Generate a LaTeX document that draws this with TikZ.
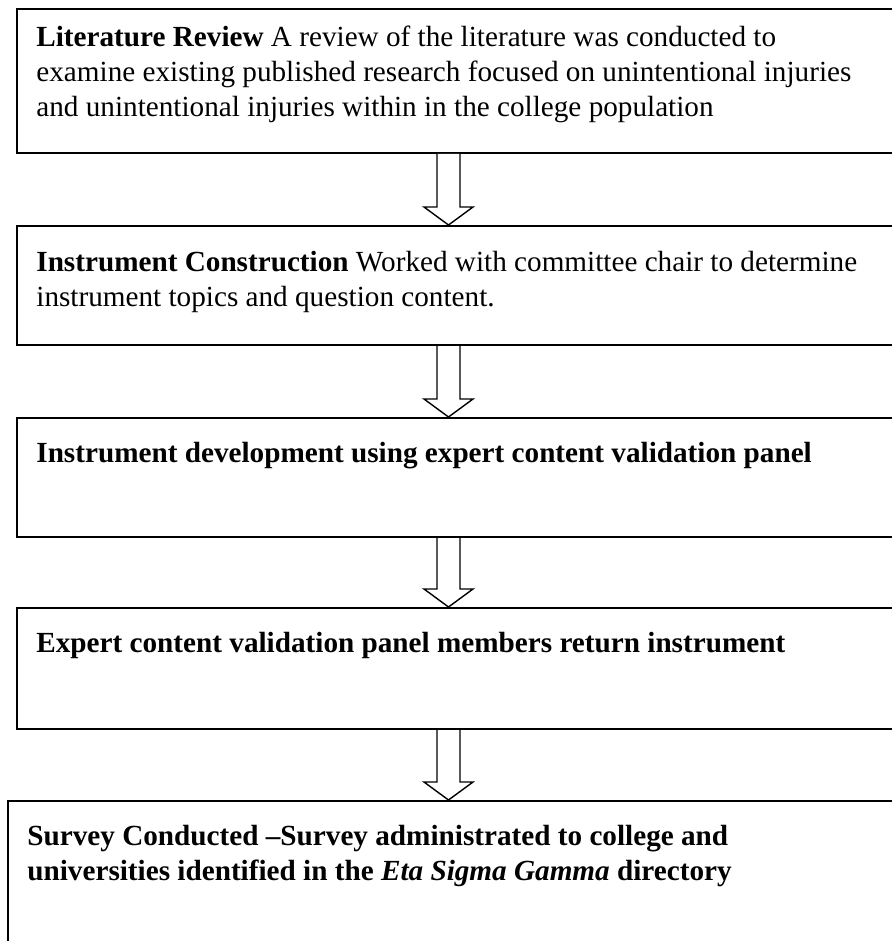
\documentclass[tikz,border=0pt]{standalone}
\usepackage{fontspec}
\setmainfont{Liberation Serif}
\usetikzlibrary{positioning,calc}

\tikzset{
  stepbox/.style={draw, line width=1pt, anchor=north west, inner sep=0pt, minimum width=447pt},
  steptext/.style={anchor=north west, inner sep=0pt, align=left, font=\fontsize{14.6}{17.5}\selectfont},
  flowarrow/.style={draw, line width=0.7pt, fill=white, line join=miter},
}
% hollow block arrow from the bottom of #1 to the top of #2
\newcommand{\hollowarrow}[2]{%
  \draw[flowarrow] ($(axis |- #1.south)+(-11.5,0)$) -- ($(axis |- #2.north)+(-11.5,-18)$)
    -- ++(-13,0) -- (axis |- #2.north) -- ++(24.5,-18) -- ++(-13,0)
    -- ($(axis |- #1.south)+(11.5,0)$);}

\begin{document}
\begin{tikzpicture}[x=0.5pt,y=-0.5pt]
  \useasboundingbox (0,0) rectangle (892,941);
  \coordinate (axis) at (448.5,0);
  % boxes
  \node[stepbox, minimum height=72pt] (lit) at (16,8) {};
  \node[stepbox, minimum height=59.5pt] (con) at (16,225) {};
  \node[stepbox, minimum height=59.5pt] (dev) at (16,417) {};
  \node[stepbox, minimum height=60.5pt] (ret) at (16,607) {};
  \node[stepbox, minimum height=90pt, minimum width=452pt] (sur) at (7,800) {};
  % texts
  \node[steptext] (littxt) at ([shift={(20,18)}]lit.north west)
    {\textbf{Literature Review} A review of the literature was conducted to\\
     examine existing published research focused on unintentional injuries\\
     and unintentional injuries within in the college population};
  \node[steptext] (contxt) at ([shift={(20,26)}]con.north west)
    {\textbf{Instrument Construction} Worked with committee chair to determine\\
     instrument topics and question content.};
  \node[steptext] (devtxt) at ([shift={(20,25)}]dev.north west)
    {\textbf{Instrument development using expert content validation panel}};
  \node[steptext] (rettxt) at ([shift={(20,25)}]ret.north west)
    {\textbf{Expert content validation panel members return instrument}};
  \node[steptext, font=\fontsize{14.6}{17.5}\selectfont\bfseries] (surtxt) at ([shift={(20,25)}]sur.north west)
    {Survey Conducted --Survey administrated to college and\\
     universities identified in the \textit{Eta Sigma Gamma} directory};
  % arrows
  \hollowarrow{lit}{con}
  \hollowarrow{con}{dev}
  \hollowarrow{dev}{ret}
  \hollowarrow{ret}{sur}
\end{tikzpicture}
\end{document}
